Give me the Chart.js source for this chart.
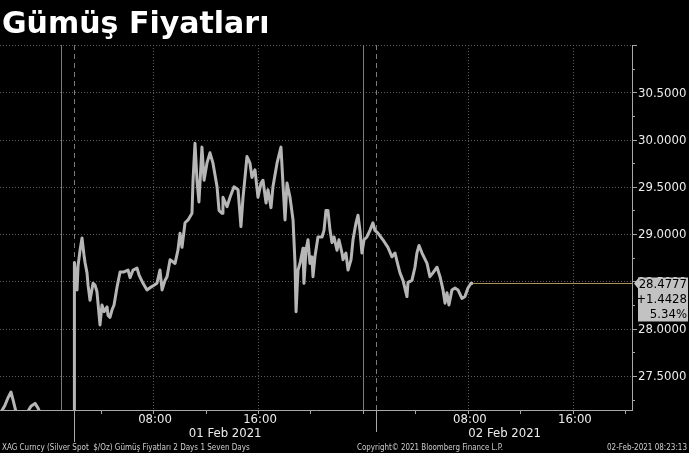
<!DOCTYPE html>
<html>
<head>
<meta charset="utf-8">
<script src="https://cdn.jsdelivr.net/npm/chart.js@4.4.1/dist/chart.umd.min.js"></script>
<style>
  html, body { margin: 0; padding: 0; background: #000; }
  #wrap { position: relative; width: 689px; height: 453px; }
</style>
</head>
<body>
<div id="wrap"><canvas id="chartSilver"></canvas></div>
<script>
// hours since 00:00 01 Feb 2021 (negative = Friday session tail)
const hours = [
  -3.73, -3.28, -3.05, -2.82, -2.67, -2.44, -2.13, -1.60, -1.30, -0.99,
  -0.76, -0.46, 0.00, 0.91, 1.99,
  2.01, 2.06, 2.21, 2.29, 2.44, 2.59, 2.74, 2.82, 2.97, 3.05,
  3.20, 3.43, 3.58, 3.73, 3.96, 4.11, 4.27, 4.50, 4.57, 4.72,
  4.88, 5.03, 5.26, 5.49, 5.79, 6.10, 6.25, 6.48, 6.78, 6.93,
  7.24, 7.54, 7.85, 8.08, 8.30, 8.53, 8.69, 8.91, 9.07, 9.30,
  9.68, 9.90, 10.06, 10.21, 10.44, 10.67, 10.97, 11.05, 11.20, 11.35,
  11.50, 11.73, 11.89, 12.11, 12.34, 12.57, 12.88, 13.03, 13.26, 13.33,
  13.64, 13.87, 14.17, 14.48, 14.70, 14.86, 15.01, 15.16, 15.39, 15.54,
  15.77, 16.00, 16.23, 16.38, 16.61, 16.76, 16.99, 17.14, 17.45, 17.75,
  17.90, 18.06, 18.21, 18.44, 18.67, 18.82, 18.90, 19.05, 19.20, 19.43,
  19.50, 19.66, 19.81, 19.96, 20.11, 20.19, 20.34, 20.57, 20.88, 21.03,
  21.18, 21.33, 21.49, 21.64, 21.79, 22.02, 22.17, 22.40, 22.48, 22.70,
  22.86, 23.09, 23.24, 23.47, 23.62, 23.77, 23.92, 24.08, 24.30, 24.53,
  24.76, 24.91, 25.14, 25.52, 25.90, 26.21, 26.44, 26.67, 26.82, 27.05,
  27.35, 27.43, 27.73, 27.96, 28.11, 28.27, 28.50, 28.88, 29.10, 29.33,
  29.64, 29.87, 30.10, 30.25, 30.40, 30.55, 30.78, 31.01, 31.24, 31.54,
  31.77, 32.00, 32.23, 32.38
];

// XAG spot, $/oz
const prices = [
  27.08, 27.19, 27.27, 27.33, 27.25, 27.12, 27.03, 27.11, 27.18, 27.21,
  27.16, 27.06, 26.98, 26.95, 26.97,
  28.70, 28.62, 28.41, 28.67, 28.83, 28.96, 28.78, 28.70, 28.59, 28.46,
  28.30, 28.48, 28.46, 28.39, 28.04, 28.25, 28.18, 28.23, 28.14, 28.12,
  28.20, 28.25, 28.44, 28.60, 28.60, 28.62, 28.54, 28.62, 28.64, 28.57,
  28.48, 28.41, 28.44, 28.46, 28.48, 28.62, 28.41, 28.51, 28.55, 28.73,
  28.69, 28.83, 29.01, 28.86, 29.12, 29.15, 29.22, 29.57, 29.96, 29.57,
  29.34, 29.92, 29.57, 29.75, 29.86, 29.75, 29.50, 29.25, 29.22, 29.39,
  29.29, 29.39, 29.50, 29.47, 29.08, 29.39, 29.60, 29.82, 29.75, 29.60,
  29.68, 29.39, 29.54, 29.57, 29.33, 29.47, 29.28, 29.50, 29.75, 29.92,
  29.54, 29.15, 29.54, 29.39, 29.15, 28.69, 28.18, 28.62, 28.69, 28.85,
  28.48, 28.83, 28.94, 28.69, 28.76, 28.55, 28.76, 28.97, 28.97, 29.04,
  29.25, 29.25, 29.04, 28.91, 28.97, 28.83, 28.94, 28.80, 28.73, 28.80,
  28.62, 28.73, 28.94, 29.12, 29.20, 29.04, 28.80, 28.94, 28.97, 29.04,
  29.12, 29.04, 29.01, 28.94, 28.86, 28.76, 28.80, 28.67, 28.59, 28.51,
  28.34, 28.49, 28.51, 28.65, 28.80, 28.88, 28.80, 28.69, 28.55, 28.59,
  28.65, 28.55, 28.41, 28.27, 28.38, 28.25, 28.41, 28.43, 28.41, 28.32,
  28.34, 28.43, 28.48, 28.4777
];

const prevClose = 27.0349;

const priceTicks = [27.5, 28.0, 28.5, 29.0, 29.5, 30.0, 30.5, 31.0];
const priceMinorTicks = [27.25, 27.75, 28.25, 28.75, 29.25, 29.75, 30.25, 30.75];
const timeTickHours = [8, 16, 32, 40];
const timeTickLabels = ['08:00', '16:00', '08:00', '16:00'];
const timeMinorHours = [4, 12, 20, 24, 28, 36, 44];
const dayBreakHours = [1, 24];
const sessionOpenHours = [2, 25];
const dayLabels = ['01 Feb 2021', '02 Feb 2021'];
const dayLabelHours = [13.5, 34.8];

const titleText = 'Gümüş Fiyatları';
const footerLeft = 'XAG Curncy (Silver Spot  $/Oz) Gümüş Fiyatları 2 Days 1 Seven Days';
const footerMid = 'Copyright\u00A9 2021 Bloomberg Finance L.P.';
const footerRight = '02-Feb-2021 08:23:13';

const lastHour = hours[hours.length - 1];
const lastPrice = prices[prices.length - 1];

const axisFont = '13px "DejaVu Sans Condensed", "DejaVu Sans", sans-serif';

function line(ctx, x1, y1, x2, y2) {
  ctx.beginPath();
  ctx.moveTo(x1, y1);
  ctx.lineTo(x2, y2);
  ctx.stroke();
}

const bbgFrame = {
  id: 'bbgFrame',
  beforeDatasetsDraw(chart) {
    const { ctx, chartArea: a, scales: { x, y } } = chart;
    ctx.save();
    ctx.lineWidth = 1;
    ctx.strokeStyle = '#5e5e5e';
    ctx.setLineDash([1, 2]);
    priceTicks.forEach(v => {
      const py = Math.round(y.getPixelForValue(v)) + 0.5;
      line(ctx, a.left, py, a.right, py);
    });
    timeTickHours.forEach(h => {
      const px = Math.round(x.getPixelForValue(h)) + 0.5;
      line(ctx, px, a.top, px, a.bottom);
    });
    ctx.setLineDash([]);
    ctx.strokeStyle = '#7c7c7c';
    dayBreakHours.forEach(h => {
      const px = Math.round(x.getPixelForValue(h)) + 0.5;
      line(ctx, px, a.top, px, a.bottom);
    });
    ctx.setLineDash([5, 4]);
    sessionOpenHours.forEach(h => {
      const px = Math.round(x.getPixelForValue(h)) + 0.5;
      line(ctx, px, a.top, px, a.bottom);
    });
    ctx.restore();
  },
  afterDraw(chart) {
    const { ctx, chartArea: a, scales: { x, y } } = chart;
    ctx.save();
    ctx.lineWidth = 1;
    ctx.strokeStyle = '#a8a8a8';
    // axis lines
    line(ctx, a.left, a.bottom + 0.5, a.right + 1, a.bottom + 0.5);
    line(ctx, a.right + 0.5, a.top, a.right + 0.5, a.bottom + 1);
    // session open lines run below the axis
    sessionOpenHours.forEach((h, i) => {
      const px = Math.round(x.getPixelForValue(h)) + 0.5;
      line(ctx, px, a.bottom, px, a.bottom + (i === 0 ? 32 : 22));
    });
    // time ticks
    timeTickHours.concat(timeMinorHours).forEach(h => {
      const px = Math.round(x.getPixelForValue(h)) + 0.5;
      line(ctx, px, a.bottom, px, a.bottom + 4);
    });
    // price ticks
    priceTicks.forEach(v => {
      const py = Math.round(y.getPixelForValue(v)) + 0.5;
      line(ctx, a.right, py, a.right + 5, py);
    });
    priceMinorTicks.forEach(v => {
      const py = Math.round(y.getPixelForValue(v)) + 0.5;
      line(ctx, a.right, py, a.right + 3, py);
    });

    ctx.fillStyle = '#ececec';
    ctx.font = axisFont;
    ctx.textBaseline = 'middle';
    ctx.textAlign = 'left';
    priceTicks.forEach(v => {
      if (v >= y.max) return;
      ctx.fillText(v.toFixed(4), a.right + 6, y.getPixelForValue(v) + 1);
    });
    ctx.textAlign = 'center';
    timeTickHours.forEach((h, i) => {
      ctx.fillText(timeTickLabels[i], x.getPixelForValue(h) + 2, a.bottom + 10);
    });
    dayLabels.forEach((t, i) => {
      ctx.fillText(t, x.getPixelForValue(dayLabelHours[i]), a.bottom + 24);
    });

    // last value box
    const ly = y.getPixelForValue(lastPrice);
    const bx = a.right + 6, top = ly - 6, bot = ly + 38;
    ctx.fillStyle = '#c2c2c2';
    ctx.beginPath();
    ctx.moveTo(a.right + 2, ly);
    ctx.lineTo(bx, ly - 5);
    ctx.lineTo(bx, top);
    ctx.lineTo(chart.width - 1, top);
    ctx.lineTo(chart.width - 1, bot);
    ctx.lineTo(bx, bot);
    ctx.lineTo(bx, ly + 5);
    ctx.closePath();
    ctx.fill();
    const change = lastPrice - prevClose;
    const pct = change / prevClose * 100;
    ctx.fillStyle = '#000';
    ctx.textAlign = 'right';
    ctx.fillText(lastPrice.toFixed(4), chart.width - 2, ly + 1);
    ctx.fillText((change >= 0 ? '+' : '') + change.toFixed(4), chart.width - 2, ly + 16);
    ctx.fillText(pct.toFixed(2) + '%', chart.width - 2, ly + 31);

    // title
    ctx.fillStyle = '#ffffff';
    ctx.textAlign = 'left';
    ctx.textBaseline = 'alphabetic';
    ctx.font = 'bold 30px "DejaVu Sans", sans-serif';
    ctx.fillText(titleText, 2, 33, 270);

    // footer
    ctx.fillStyle = '#cfcfcf';
    ctx.font = '8px "DejaVu Sans Condensed", "DejaVu Sans", sans-serif';
    ctx.fillText(footerLeft, 2, 450, 251);
    ctx.fillText(footerMid, 357, 450, 146);
    ctx.textAlign = 'right';
    ctx.fillText(footerRight, 687, 450, 80);
    ctx.restore();
  }
};

const seriesData = hours.map((h, i) => ({ x: h, y: prices[i] }));

new Chart(document.getElementById('chartSilver'), {
  type: 'line',
  data: {
    datasets: [
      {
        label: 'XAG',
        data: seriesData,
        borderColor: '#b6b6b6',
        borderWidth: 3,
        borderJoinStyle: 'round',
        pointRadius: 0,
        tension: 0,
        fill: false
      },
      {
        label: 'Last',
        data: [{ x: lastHour, y: lastPrice }, { x: 44.5, y: lastPrice }],
        borderColor: '#a8925c',
        borderWidth: 1,
        pointRadius: 0,
        fill: false
      }
    ]
  },
  options: {
    responsive: true,
    maintainAspectRatio: false,
    devicePixelRatio: 1,
    animation: false,
    events: [],
    layout: { padding: { left: 0, top: 45, right: 57, bottom: 43 } },
    plugins: { legend: { display: false }, tooltip: { enabled: false }, title: { display: false } },
    scales: {
      x: { type: 'linear', min: -3.66, max: 44.5, display: false },
      y: { type: 'linear', min: 27.14, max: 31.0, display: false }
    }
  },
  plugins: [bbgFrame]
});
</script>
</body>
</html>
